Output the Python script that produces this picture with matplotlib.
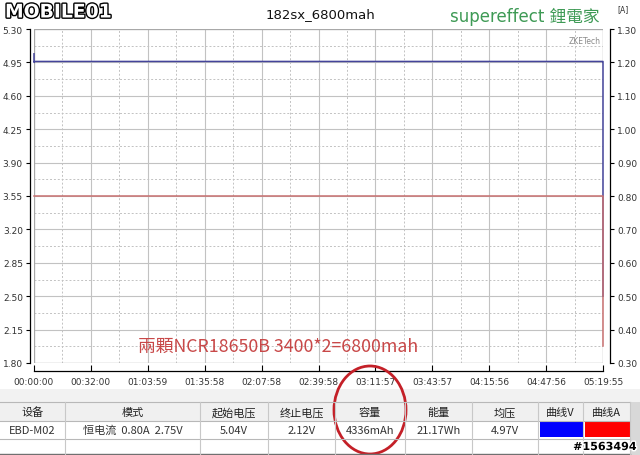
import numpy as np
import matplotlib
matplotlib.use("Agg")
import matplotlib.pyplot as plt
import matplotlib.patheffects as pe
from matplotlib.patches import Rectangle, Ellipse

plt.rcParams['font.family'] = ['DejaVu Sans', 'Noto Sans CJK SC']

# ---- data ----
title = '182sx_6800mah'
x_labels = ['00:00:00', '00:32:00', '01:03:59', '01:35:58', '02:07:58', '02:39:58',
            '03:11:57', '03:43:57', '04:15:56', '04:47:56', '05:19:55']
v_labels = ['1.80', '2.15', '2.50', '2.85', '3.20', '3.55', '3.90', '4.25', '4.60', '4.95', '5.30']
a_labels = ['0.30', '0.40', '0.50', '0.60', '0.70', '0.80', '0.90', '1.00', '1.10', '1.20', '1.30']

# voltage curve (s, V)
v_time = [0, 0, 30, 19190, 19195, 19195]
v_volt = [5.04, 4.95, 4.96, 4.96, 4.96, 2.50]
# current curve (s, A)
a_time = [0, 19195, 19195]
a_amp = [0.80, 0.80, 0.35]

tbl_head = ['设备', '模式', '起始电压', '终止电压', '容量', '能量', '均压', '曲线V', '曲线A']
tbl_row = ['EBD-M02', '恒电流  0.80A  2.75V', '5.04V', '2.12V', '4336mAh', '21.17Wh', '4.97V', '', '']
tbl_edges = [0, 65, 200, 268, 335, 405, 472, 538, 583, 630]

note = '兩顆NCR18650B 3400*2=6800mah'


def secs(s):
    h, m, x = s.split(':')
    return int(h) * 3600 + int(m) * 60 + int(x)


x_ticks = [secs(s) for s in x_labels]
v_ticks = [float(s) for s in v_labels]
a_ticks = [float(s) for s in a_labels]

fig = plt.figure(figsize=(6.4, 4.56), dpi=100)
fig.patch.set_facecolor('white')

W, H = 640.0, 456.0
ax = fig.add_axes([34 / W, 92 / H, 569 / W, 334 / H])
ax.set_xlim(x_ticks[0], x_ticks[-1])
ax.set_ylim(v_ticks[0], v_ticks[-1])
ax2 = ax.twinx()
ax2.set_ylim(a_ticks[0], a_ticks[-1])

gridc = '#c2c2c2'
ax.set_xticks(x_ticks)
ax.set_xticklabels(x_labels)
ax.set_yticks(v_ticks)
ax.set_yticklabels(v_labels)
ax.set_xticks([(a + b) / 2 for a, b in zip(x_ticks[:-1], x_ticks[1:])], minor=True)
ax.set_yticks([(a + b) / 2 for a, b in zip(v_ticks[:-1], v_ticks[1:])], minor=True)
ax.grid(which='major', color=gridc, lw=0.8, ls='-')
ax.grid(which='minor', color=gridc, lw=0.7, ls=(0, (2, 2)))
ax.set_axisbelow(True)

for s in ['top', 'right']:
    ax.spines[s].set_visible(False)
ax.spines['left'].set_position(('outward', 3))
ax.spines['bottom'].set_position(('outward', 6))
ax.spines['left'].set_linewidth(0.9)
ax.spines['bottom'].set_linewidth(0.9)
ax.tick_params(axis='y', which='major', direction='out', length=3, labelsize=6.5,
               labelcolor='#333333', pad=2)
ax.tick_params(axis='x', which='major', direction='in', length=4, labelsize=6.5,
               labelcolor='#333333', pad=4)
ax.tick_params(which='minor', length=0)

ax.add_patch(Rectangle((0, 0), 1, 1, transform=ax.transAxes, fill=False,
                       edgecolor='#a8a8a8', lw=0.9, zorder=1))

for s in ['top', 'left', 'bottom']:
    ax2.spines[s].set_visible(False)
ax2.spines['right'].set_position(('outward', 5))
ax2.spines['right'].set_linewidth(0.9)
ax2.set_yticks(a_ticks)
ax2.set_yticklabels(a_labels)
ax2.tick_params(axis='y', direction='out', length=3, labelsize=6.5,
                labelcolor='#333333', pad=2)

ax.plot(v_time, v_volt, color='#44449a', lw=1.1, zorder=3, clip_on=False)
ax2.plot(a_time, a_amp, color='#c87070', lw=1.1, zorder=4, clip_on=False)

ax.text(0.995, 0.965, 'ZKETech', transform=ax.transAxes, ha='right', va='center',
        fontsize=5.5, color='#8a8a8a')

# ---- overlay in pixel coordinates for header, note and table ----
ov = fig.add_axes([0, 0, 1, 1], facecolor='none')
ov.set_xlim(0, W)
ov.set_ylim(H, 0)
ov.axis('off')

ov.text(5, 13, 'MOBILE01', fontsize=13.5, fontweight='bold', color='white',
        va='center', ha='left',
        path_effects=[pe.withStroke(linewidth=2, foreground='black')])
ov.text(320, 15, title, fontsize=9.5, ha='center', va='center', color='#111111')
ov.text(450, 17, 'supereffect 鋰電家', fontsize=12, ha='left', va='center',
        color='#3e9a55', family=['DejaVu Sans', 'Noto Sans CJK TC'])
ov.text(617, 10, '[A]', fontsize=5.5, ha='left', va='center', color='#333333')

ov.text(138, 347, note, fontsize=12.8, ha='left', va='center', color='#c84848',
        family=['Noto Sans CJK TC', 'DejaVu Sans'])

# table
ov.add_patch(Rectangle((0, 390), W, 13, facecolor='#f2f2f2', edgecolor='none'))
ov.add_patch(Rectangle((0, 403), 630, 19, facecolor='#f0f0f0', edgecolor='none'))
ov.add_patch(Rectangle((630, 403), 10, 53, facecolor='#d8d8d8', edgecolor='none'))
for yy in [403, 422, 440]:
    ov.plot([0, 630], [yy, yy], color='#b8b8b8', lw=0.8)
ov.plot([0, 630], [455, 455], color='#707070', lw=1.0)
for xx in tbl_edges[1:]:
    ov.plot([xx, xx], [403, 455], color='#c8c8c8', lw=0.8)

for i, (h, r) in enumerate(zip(tbl_head, tbl_row)):
    cx = (tbl_edges[i] + tbl_edges[i + 1]) / 2
    ov.text(cx, 413, h, fontsize=8, ha='center', va='center', color='#222222',
            family=['Noto Sans CJK SC', 'DejaVu Sans'])
    ov.text(cx, 431, r, fontsize=8, ha='center', va='center', color='#333333',
            family=['Noto Sans CJK SC', 'DejaVu Sans'])

ov.add_patch(Rectangle((540, 423), 43, 15, facecolor='#0000ff', edgecolor='none'))
ov.add_patch(Rectangle((585, 423), 45, 15, facecolor='#ff0000', edgecolor='none'))

ov.add_patch(Ellipse((370, 411), 72, 88, fill=False, edgecolor='#c42028', lw=2))

ov.text(637, 448, '#1563494', fontsize=8, fontweight='bold', ha='right', va='center',
        color='black', path_effects=[pe.withStroke(linewidth=2, foreground='white')])

fig.savefig('out.png', dpi=100)
